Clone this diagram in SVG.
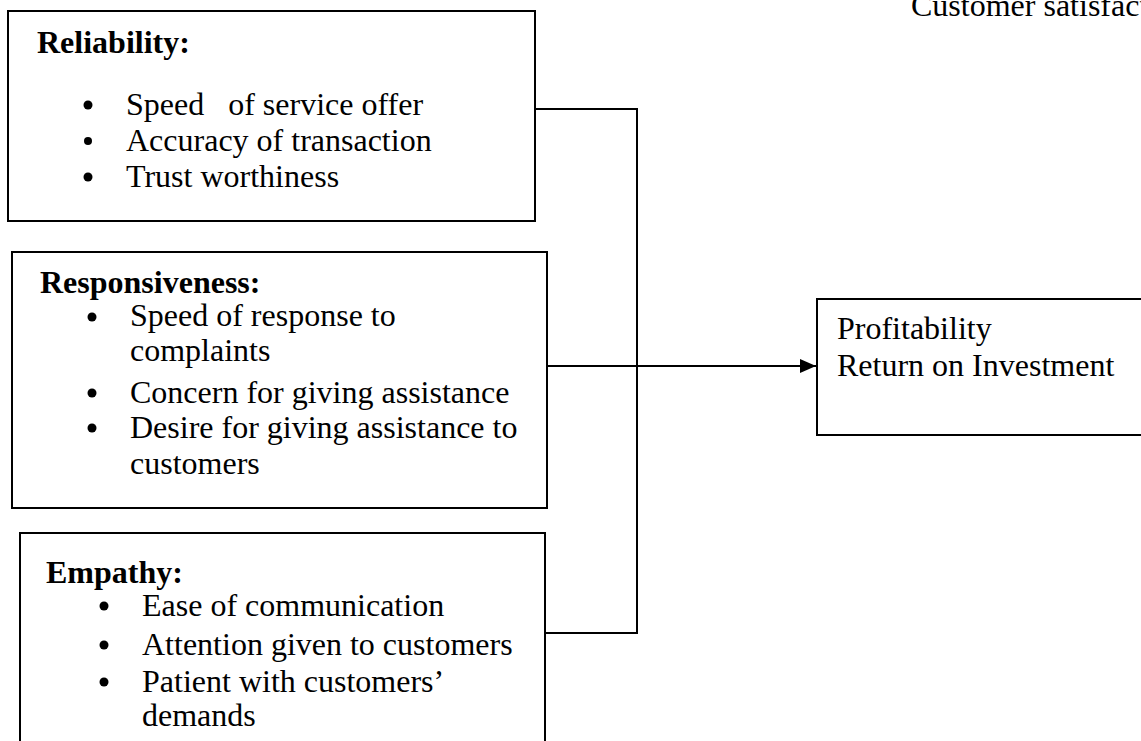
<svg xmlns="http://www.w3.org/2000/svg" width="1141" height="741" viewBox="0 0 1141 741">
<defs>
<marker id="arrow" markerWidth="16" markerHeight="14" refX="16" refY="7" orient="auto" markerUnits="userSpaceOnUse">
<path d="M0,0 L16,7 L0,14 Z" fill="#000"/>
</marker>
<style>
.box{fill:#fff;stroke:#000;stroke-width:2}
.t{font-family:"Liberation Serif","Times New Roman",serif;font-size:32px;fill:#000}
.b{font-weight:bold}
.dot{fill:#000}
.conn{fill:none;stroke:#000;stroke-width:2}
</style>
</defs>
<rect width="1141" height="741" fill="#fff"/>
<text class="t" x="911" y="16">Customer satisfaction</text>
<g id="reliability">
<rect class="box" x="8" y="11" width="527" height="210"/>
<text class="t b" x="37" y="53">Reliability:</text>
<circle class="dot" cx="88" cy="105" r="4.5"/>
<text class="t" x="126" y="115" xml:space="preserve">Speed   of service offer</text>
<circle class="dot" cx="88" cy="141" r="4"/>
<text class="t" x="126" y="151">Accuracy of transaction</text>
<circle class="dot" cx="88" cy="177" r="4.5"/>
<text class="t" x="126" y="187">Trust worthiness</text>
</g>
<g id="responsiveness">
<rect class="box" x="12" y="252" width="535" height="256"/>
<text class="t b" x="40" y="293">Responsiveness:</text>
<circle class="dot" cx="92" cy="317" r="4.5"/>
<text class="t" x="130" y="326">Speed of response to</text>
<text class="t" x="130" y="361">complaints</text>
<circle class="dot" cx="92" cy="393" r="4.5"/>
<text class="t" x="130" y="403">Concern for giving assistance</text>
<circle class="dot" cx="92" cy="428" r="4.5"/>
<text class="t" x="130" y="438">Desire for giving assistance to</text>
<text class="t" x="130" y="474">customers</text>
</g>
<g id="empathy">
<rect class="box" x="20" y="533" width="525" height="220"/>
<text class="t b" x="46" y="583">Empathy:</text>
<circle class="dot" cx="104" cy="606" r="4.5"/>
<text class="t" x="142" y="616">Ease of communication</text>
<circle class="dot" cx="104" cy="645" r="4.5"/>
<text class="t" x="142" y="655">Attention given to customers</text>
<circle class="dot" cx="104" cy="682" r="4.5"/>
<text class="t" x="142" y="692">Patient with customers’</text>
<text class="t" x="142" y="726">demands</text>
</g>
<g id="profitability">
<rect class="box" x="817" y="299" width="340" height="136"/>
<text class="t" x="837" y="339">Profitability</text>
<text class="t" x="837" y="376">Return on Investment</text>
</g>
<g id="connectors">
<polyline class="conn" points="535,109 637,109 637,633 545,633"/>
<line class="conn" x1="547" y1="366" x2="816" y2="366" marker-end="url(#arrow)"/>
</g>
</svg>
